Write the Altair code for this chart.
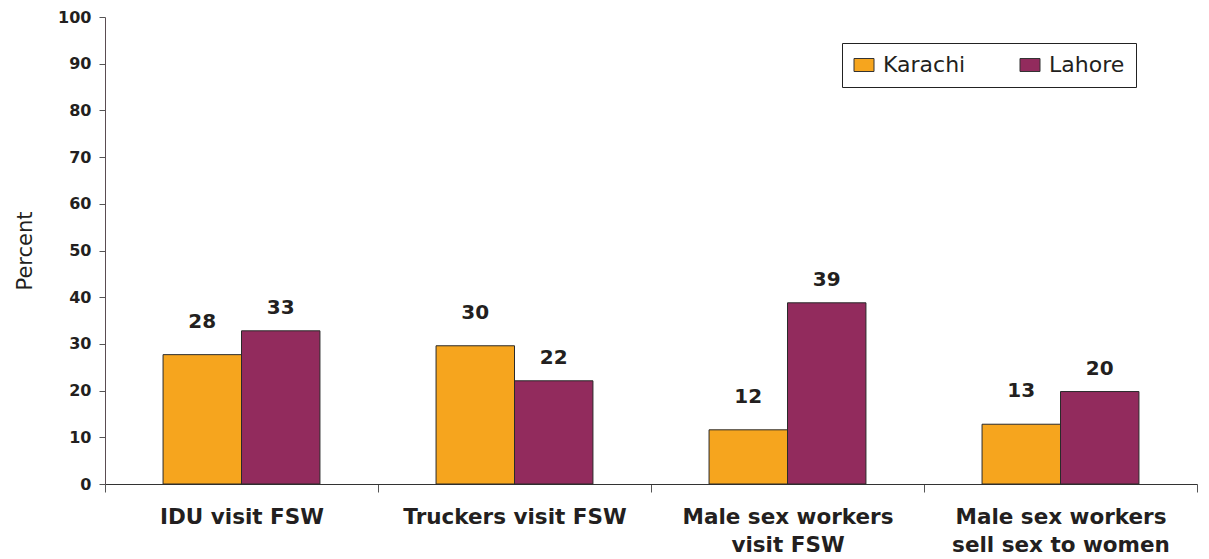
import altair as alt
import pandas as pd

categories = [
    "IDU visit FSW",
    "Truckers visit FSW",
    "Male sex workers\nvisit FSW",
    "Male sex workers\nsell sex to women",
]
cities = ["Karachi", "Lahore"]
karachi_values = [27.7, 29.6, 11.6, 12.8]
lahore_values = [32.8, 22.1, 38.8, 19.8]
city_colors = ["#F6A51E", "#922B5D"]
y_ticks = [0, 10, 20, 30, 40, 50, 60, 70, 80, 90, 100]

rows = []
for c, k, l in zip(categories, karachi_values, lahore_values):
    rows.append({"category": c, "city": "Karachi", "value": k})
    rows.append({"category": c, "city": "Lahore", "value": l})
df = pd.DataFrame(rows)

FONT = "DejaVu Sans"
TXT = "#231f20"

x_enc = alt.X(
    "category:N",
    sort=categories,
    scale=alt.Scale(paddingInner=0, paddingOuter=0),
    axis=alt.Axis(
        title=None,
        labelExpr="split(datum.label, '\\n')",
        labelAngle=0,
        tickBand="extent",
        labelFont=FONT,
        labelFontSize=21.5,
        labelFontWeight="bold",
        labelColor=TXT,
        labelLineHeight=28,
        labelPadding=14,
        labelLimit=400,
        tickSize=8,
        tickColor="#555555",
        domainColor="#333333",
        labelBaseline="top",
    ),
)
xoff_enc = alt.XOffset(
    "city:N", sort=cities, scale=alt.Scale(paddingOuter=0.74, paddingInner=0)
)
y_enc = alt.Y(
    "value:Q",
    scale=alt.Scale(domain=[0, 100], nice=False),
    axis=alt.Axis(
        values=y_ticks,
        title="Percent",
        titleFont=FONT,
        titleFontSize=21,
        titleFontWeight="normal",
        titleColor=TXT,
        titlePadding=22,
        labelFont=FONT,
        labelFontSize=16,
        labelFontWeight="bold",
        labelColor=TXT,
        labelPadding=8,
        tickSize=6,
        tickColor="#555555",
        domainColor="#5b4d52",
        grid=False,
    ),
)

base = alt.Chart(df).encode(x=x_enc, xOffset=xoff_enc)

bars = base.mark_bar(stroke="#2a2a2a", strokeWidth=1).encode(
    y=y_enc,
    color=alt.Color(
        "city:N",
        sort=cities,
        scale=alt.Scale(domain=cities, range=city_colors),
        legend=alt.Legend(
            title=None,
            orient="none",
            legendX=737,
            legendY=26,
            direction="horizontal",
            padding=11,
            strokeColor="#222222",
            fillColor="white",
            labelFont=FONT,
            labelFontSize=22,
            labelColor=TXT,
            labelOffset=8,
            columnPadding=52,
            symbolType="M-1,-0.65L1,-0.65L1,0.65L-1,0.65Z",
            symbolSize=400,
            symbolStrokeColor="#333333",
            symbolStrokeWidth=1,
            symbolOpacity=1,
        ),
    ),
)

text_k = (
    base.transform_filter(alt.datum.city == "Karachi")
    .mark_text(dy=-33, font=FONT, fontSize=20, fontWeight="bold", color=TXT, baseline="middle")
    .encode(y="value:Q", text=alt.Text("value:Q", format=".0f"))
)
text_l = (
    base.transform_filter(alt.datum.city == "Lahore")
    .mark_text(dy=-23, font=FONT, fontSize=20, fontWeight="bold", color=TXT, baseline="middle")
    .encode(y="value:Q", text=alt.Text("value:Q", format=".0f"))
)

chart = (
    alt.layer(bars, text_k, text_l)
    .properties(
        width=1092,
        height=467,
        autosize=alt.AutoSizeParams(type="none"),
        padding={"left": 97, "top": 9, "right": 4, "bottom": 75},
        background="white",
    )
    .configure_view(stroke=None)
)

chart.save("out.html", embed_options={"renderer": "svg", "actions": False})
